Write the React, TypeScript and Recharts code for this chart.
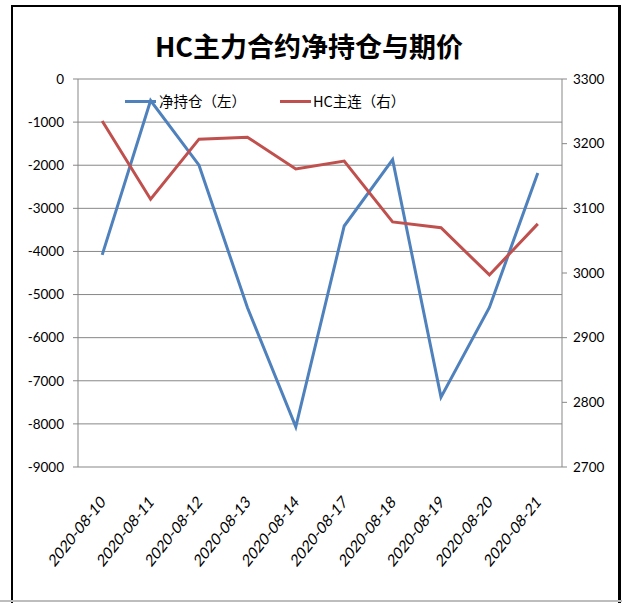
import React from 'react';
import { ComposedChart, Line, XAxis, YAxis, CartesianGrid, Legend } from 'recharts';

const categories = ['2020-08-10', '2020-08-11', '2020-08-12', '2020-08-13', '2020-08-14', '2020-08-17', '2020-08-18', '2020-08-19', '2020-08-20', '2020-08-21'];
const netPosition = [-4080, -500, -2000, -5300, -8070, -3410, -1870, -7380, -5300, -2180];
const hcPrice = [3235, 3114, 3207, 3210, 3161, 3173, 3079, 3070, 2997, 3076];
const leftTicks = [0, -1000, -2000, -3000, -4000, -5000, -6000, -7000, -8000, -9000];
const rightTicks = [3300, 3200, 3100, 3000, 2900, 2800, 2700];
const boundaryTicks = [0, 1, 2, 3, 4, 5, 6, 7, 8, 9, 10];

const seriesNames = ['净持仓（左）', 'HC主连（右）'];
const titleText = 'HC主力合约净持仓与期价';

const BLUE = '#4F81BD';
const RED = '#C0504D';
const GRID = '#878787';

const data = categories.map((c, i) => ({ date: c, net: netPosition[i], price: hcPrice[i] }));

const XTick = (props: any) => {
  const { x, y, payload } = props;
  return (
    <g transform={`translate(${x + 4},${y + 36})`}>
      <text
        transform="scale(0.8,1) rotate(-45)"
        textAnchor="end"
        fill="#000"
        fontSize={17}
        fontFamily="Lato"
      >
        {payload.value}
      </text>
    </g>
  );
};

const LegendContent = () => (
  <div style={{ position: 'relative', width: 622, height: 22, fontFamily: "'Noto Sans CJK SC'", fontSize: 14.5, color: '#000' }}>
    <div style={{ position: 'absolute', left: 125, top: 9, width: 31, height: 3, background: BLUE }} />
    <span style={{ position: 'absolute', left: 159, top: 0, lineHeight: '20px', whiteSpace: 'nowrap' }}>{seriesNames[0]}</span>
    <div style={{ position: 'absolute', left: 280, top: 9, width: 31, height: 3, background: RED }} />
    <span style={{ position: 'absolute', left: 313, top: 0, lineHeight: '20px', whiteSpace: 'nowrap' }}>{seriesNames[1]}</span>
  </div>
);

export default function App() {
  return (
    <div style={{ position: 'absolute', left: 0, top: 0, width: 622, height: 603, background: '#fff', overflow: 'hidden' }}>
      <div style={{ position: 'absolute', left: 11, top: 5, width: 605, height: 610, borderLeft: '2px solid #000', borderTop: '2px solid #000', borderRight: '3px solid #000' }} />
      <div style={{ position: 'absolute', left: 0, top: 600, width: 622, height: 2, background: '#bdbdbd' }} />
      <div style={{ position: 'absolute', left: 0, top: 29, width: 618, textAlign: 'center', fontFamily: "'Noto Sans CJK SC'", fontWeight: 'bold', fontSize: 27, lineHeight: '34px', color: '#000' }}>
        {titleText}
      </div>
      <div style={{ position: 'absolute', left: 0, top: 0 }}>
        <ComposedChart width={622} height={603} data={data} margin={{ top: 79, right: 0, bottom: 0, left: 0 }}>
          <CartesianGrid xAxisId="cat" yAxisId="left" vertical={false} stroke={GRID} strokeWidth={1} />
          <XAxis
            xAxisId="cat"
            dataKey="date"
            scale="band"
            height={136}
            interval={0}
            axisLine={false}
            tickLine={false}
            tickSize={0}
            tickMargin={0}
            tick={<XTick />}
          />
          <XAxis
            xAxisId="top"
            type="number"
            orientation="top"
            domain={[0, 10]}
            allowDataOverflow
            ticks={boundaryTicks}
            interval={0}
            mirror
            height={0}
            axisLine={{ stroke: GRID }}
            tickLine={{ stroke: GRID }}
            tickSize={5}
            tick={() => <g />}
          />
          <YAxis
            yAxisId="left"
            domain={[-9000, 0]}
            ticks={leftTicks}
            interval={0}
            width={78}
            axisLine={{ stroke: GRID }}
            tickLine={{ stroke: GRID }}
            tickSize={5}
            tickMargin={9}
            tick={{ fill: '#000', fontSize: 13.5, fontFamily: 'Lato' }}
          />
          <YAxis
            yAxisId="right"
            orientation="right"
            domain={[2700, 3300]}
            ticks={rightTicks}
            interval={0}
            width={60}
            axisLine={{ stroke: GRID }}
            tickLine={{ stroke: GRID }}
            tickSize={5}
            tickMargin={6}
            tick={{ fill: '#000', fontSize: 13.5, fontFamily: 'Lato' }}
          />
          <Legend
            layout="horizontal"
            verticalAlign="middle"
            align="center"
            wrapperStyle={{ position: 'absolute', left: 0, top: 91, width: 622, height: 22 }}
            content={<LegendContent />}
          />
          <Line
            xAxisId="cat"
            yAxisId="left"
            type="linear"
            dataKey="net"
            name={seriesNames[0]}
            stroke={BLUE}
            strokeWidth={3}
            dot={false}
            activeDot={false}
            isAnimationActive={false}
          />
          <Line
            xAxisId="cat"
            yAxisId="right"
            type="linear"
            dataKey="price"
            name={seriesNames[1]}
            stroke={RED}
            strokeWidth={3}
            dot={false}
            activeDot={false}
            isAnimationActive={false}
          />
        </ComposedChart>
      </div>
    </div>
  );
}
